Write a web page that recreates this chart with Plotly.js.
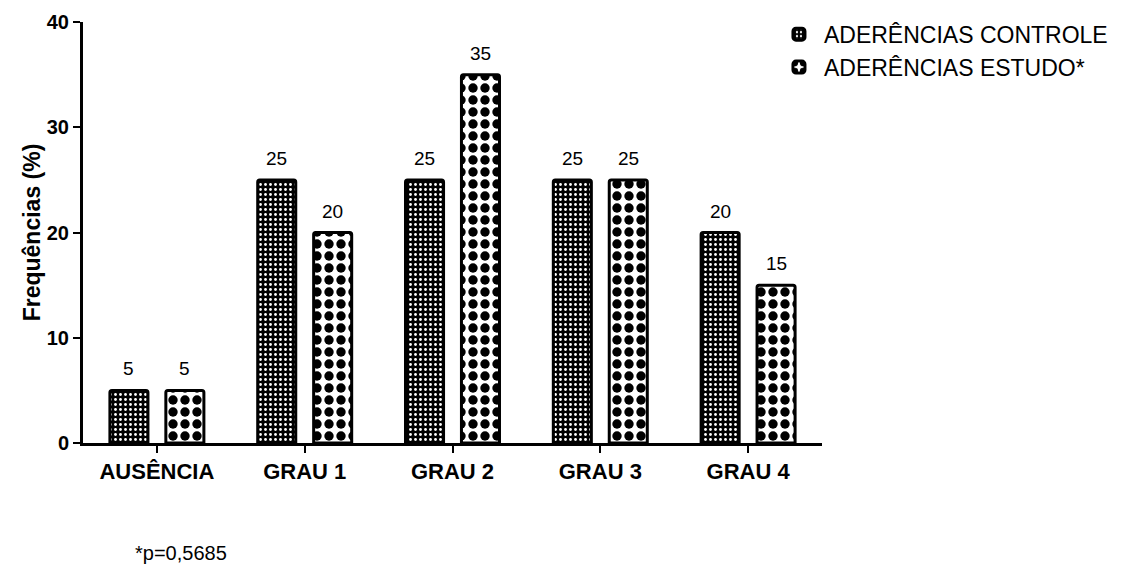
<!DOCTYPE html>
<html><head><meta charset="utf-8">
<script src="https://cdn.plot.ly/plotly-3.0.1.min.js"></script>
<style>html,body{margin:0;padding:0;background:#fff;}#chart{width:1141px;height:567px;}</style>
</head><body><div id="chart"></div>
<script>
var categories = ["AUSÊNCIA", "GRAU 1", "GRAU 2", "GRAU 3", "GRAU 4"];
var controle = [5, 25, 25, 25, 20];
var estudo = [5, 20, 35, 25, 15];
var seriesNames = ["ADERÊNCIAS CONTROLE", "ADERÊNCIAS ESTUDO*"];
var yTicks = [0, 10, 20, 30, 40];
var footnote = "*p=0,5685";

var F = "Arial, 'Liberation Sans', sans-serif";
var t1 = {
  type: "bar", x: categories, y: controle, name: seriesNames[0],
  marker: {color: "#000", line: {color: "#000", width: 3}, cornerradius: 2,
    pattern: {shape: ".", bgcolor: "#000", fgcolor: "#fff", size: 5, solidity: 0.25, fillmode: "replace"}}
};
var t2 = {
  type: "bar", x: categories, y: estudo, name: seriesNames[1],
  marker: {color: "#fff", line: {color: "#000", width: 3}, cornerradius: 2,
    pattern: {shape: ".", bgcolor: "#fff", fgcolor: "#000", size: 12, solidity: 0.48, fillmode: "replace"}}
};

var off = 0.189;
var anns = [];
categories.forEach(function (c, i) {
  anns.push({x: i - off, y: controle[i], xref: "x", yref: "y", text: String(controle[i]),
    showarrow: false, yanchor: "bottom", yshift: 9, font: {family: F, size: 19, color: "#000"}});
  anns.push({x: i + off, y: estudo[i], xref: "x", yref: "y", text: String(estudo[i]),
    showarrow: false, yanchor: "bottom", yshift: 9, font: {family: F, size: 19, color: "#000"}});
});
anns.push({
  text: footnote, xref: "paper", yref: "paper", x: (133 - 83) / 739, xanchor: "left",
  y: -(553 - 443) / 421, yanchor: "middle", showarrow: false,
  font: {family: F, size: 20, color: "#000"}
});

var layout = {
  width: 1141, height: 567,
  margin: {l: 83, r: 319, t: 22, b: 124, autoexpand: false},
  paper_bgcolor: "#fff", plot_bgcolor: "#fff",
  barmode: "group", bargap: 0.243, bargroupgap: 0.32,
  font: {family: F, color: "#000"},
  xaxis: {
    type: "category", range: [-0.5, 4.5], showline: true, linecolor: "#000", linewidth: 3,
    ticks: "outside", ticklen: 7, tickwidth: 2, tickcolor: "#000",
    tickfont: {family: F, size: 22, color: "#000", weight: "bold"},
    showgrid: false, zeroline: false, fixedrange: true
  },
  yaxis: {
    range: [0, 40], tickvals: yTicks, ticktext: yTicks.map(String),
    showline: true, linecolor: "#000", linewidth: 3,
    ticks: "outside", ticklen: 7, tickwidth: 2, tickcolor: "#000",
    tickfont: {family: F, size: 20, color: "#000", weight: "bold"},
    title: {text: "Frequências (%)", font: {family: F, size: 23, color: "#000", weight: "bold"}, standoff: 0},
    showgrid: false, zeroline: false, fixedrange: true
  },
  legend: {
    x: 0.935, y: 1.022, xanchor: "left", yanchor: "top",
    font: {family: F, size: 23, color: "#000"},
    itemwidth: 40, tracegroupgap: 4, bgcolor: "rgba(0,0,0,0)"
  },
  annotations: anns,
  showlegend: true
};
Plotly.newPlot("chart", [t1, t2], layout, {displayModeBar: false, staticPlot: true});
</script></body></html>
